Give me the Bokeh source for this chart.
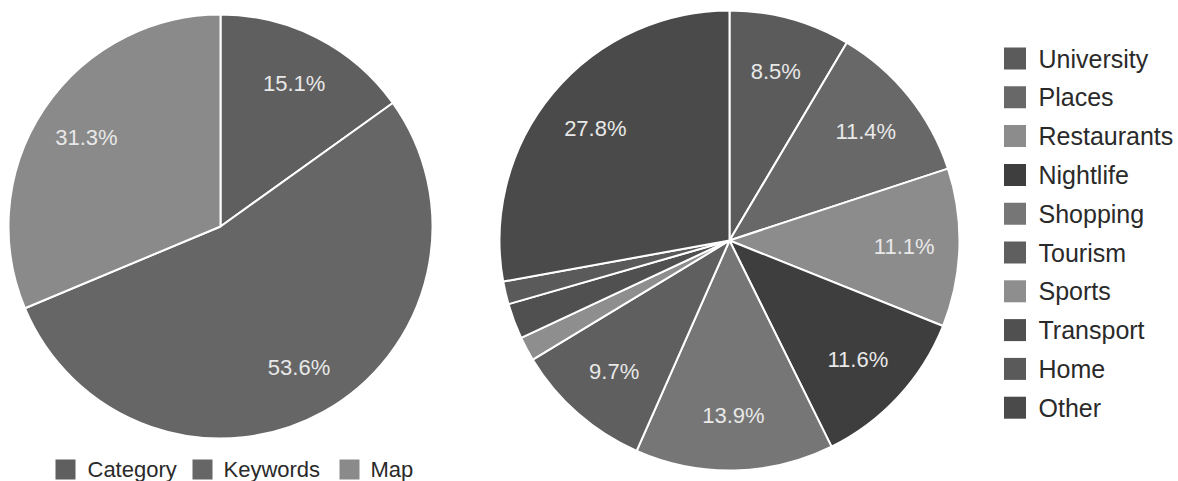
import math
from bokeh.plotting import figure
from bokeh.models import Range1d, ColumnDataSource
from bokeh.core.properties import value
from bokeh.embed import file_html
from bokeh.resources import INLINE

# ---- data ----
left_labels = ["Category", "Keywords", "Map"]
left_values = [15.1, 53.6, 31.3]
left_colors = ["#5f5f5f", "#666666", "#8a8a8a"]

right_labels = ["University", "Places", "Restaurants", "Nightlife", "Shopping",
                "Tourism", "Sports", "Transport", "Home", "Other"]
right_values = [8.5, 11.4, 11.1, 11.6, 13.9, 9.7, 1.7, 2.5, 1.6, 27.8]
right_colors = ["#5b5b5b", "#686868", "#8c8c8c", "#3e3e3e", "#767676",
                "#5f5f5f", "#8e8e8e", "#505050", "#5a5a5a", "#4a4a4a"]

W, H = 1178, 481
FONT = "Liberation Sans"

p = figure(width=W, height=H, output_backend="svg", toolbar_location=None,
           x_range=Range1d(0, W), y_range=Range1d(0, H), min_border=0)
p.axis.visible = False
p.grid.visible = False
p.outline_line_color = None
p.background_fill_color = "white"
p.border_fill_color = "white"


def sy(y):
    return H - y


def draw_pie(cx, cy, r, labels, values, colors, lab_frac, min_label=5):
    total = sum(values)
    starts, ends, lx, ly, txt = [], [], [], [], []
    cum = 0.0
    for v in values:
        a0 = math.pi / 2 - 2 * math.pi * (cum + v) / total
        a1 = math.pi / 2 - 2 * math.pi * cum / total
        starts.append(a0)
        ends.append(a1)
        if v >= min_label:
            mid = (a0 + a1) / 2
            lx.append(cx + lab_frac * r * math.cos(mid))
            ly.append(sy(cy) + lab_frac * r * math.sin(mid))
            txt.append(f"{v:.1f}%")
        cum += v
    src = ColumnDataSource(dict(start=starts, end=ends, color=colors, name=labels))
    p.wedge(x=cx, y=sy(cy), radius=r, start_angle="start", end_angle="end",
            fill_color="color", line_color="white", line_width=2, source=src)
    p.text(x=lx, y=ly, text=txt, text_align="center", text_baseline="middle",
           text_color="#e8e8e8", text_font=value(FONT), text_font_size="22px")


draw_pie(220, 226, 212, left_labels, left_values, left_colors, 0.76)
draw_pie(729, 240, 230, right_labels, right_values, right_colors, 0.76)

# right legend
ry = [sy(58 + i * 38.8) for i in range(len(right_labels))]
p.rect(x=[1014.5] * len(ry), y=ry, width=22, height=22, fill_color=right_colors,
       line_color=None)
p.text(x=[1038] * len(ry), y=ry, text=right_labels, text_align="left",
       text_baseline="middle", text_color="#2a2a2a", text_font=value(FONT),
       text_font_size="25px")

# bottom legend
bx = [65, 202, 349]
tx = [87, 223, 370]
by = [sy(469)] * 3
p.rect(x=bx, y=by, width=20, height=20, fill_color=left_colors, line_color=None)
p.text(x=tx, y=by, text=left_labels, text_align="left", text_baseline="middle",
       text_color="#2a2a2a", text_font=value(FONT), text_font_size="22px")

open("out.html", "w").write(file_html(p, INLINE))
